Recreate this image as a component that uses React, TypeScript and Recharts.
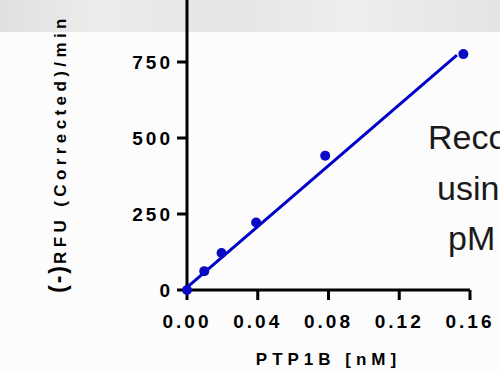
import { ComposedChart, Scatter, XAxis, YAxis } from "recharts";

// PTP1B dilution series and measured rates
const ptp1b = [0, 0.00977, 0.01953, 0.03906, 0.07813, 0.15625];
const rfuRate = [0, 62, 122, 222, 442, 776];

// linear fit endpoints
const fitX = [0, 0.1526];
const fitY = [9, 773];

const xTicks = [0, 0.04, 0.08, 0.12, 0.16];
const yTicks = [0, 250, 500, 750];

const sideLines = ["Reco", "usin", "pM"];

const points = ptp1b.map((x, i) => ({ x, y: rfuRate[i] }));
const fit = fitX.map((x, i) => ({ x, y: fitY[i] }));

const tickFont = {
  fontFamily: "'Liberation Sans', Arial, sans-serif",
  fontWeight: 700,
  fontSize: 19,
  letterSpacing: 3,
  fill: "#000",
};

const Dot = (props: any) => (
  <circle cx={props.cx} cy={props.cy} r={5} fill="#0a0ac4" />
);

const YLabel = () => (
  <text
    x={66}
    y={293}
    transform="rotate(-90 66 293)"
    fontFamily="'Liberation Sans', Arial, sans-serif"
    fontWeight={700}
    fill="#000"
  >
    <tspan fontSize={23} letterSpacing={2}>(-)</tspan>
    <tspan fontSize={17} letterSpacing={4.4}>RFU (Corrected)/min</tspan>
  </text>
);

export default function App() {
  return (
    <div
      style={{
        position: "absolute",
        left: 0,
        top: 0,
        width: 500,
        height: 371,
        overflow: "hidden",
        background: "#fcfcfc",
      }}
    >
      <div
        style={{
          position: "absolute",
          left: 0,
          top: 0,
          width: 500,
          height: 32,
          background:
            "linear-gradient(90deg, #e0e0e0 0%, #ececec 20%, #e5e5e5 45%, #eeeeee 70%, #e4e4e4 100%)",
        }}
      />
      <div style={{ position: "absolute", left: 0, top: 0 }}>
        <ComposedChart
          width={500}
          height={371}
          margin={{ top: 0, right: 30, bottom: 0, left: 0 }}
        >
          <XAxis
            type="number"
            dataKey="x"
            domain={[0, 0.16]}
            ticks={xTicks}
            tickFormatter={(v: number) => v.toFixed(2)}
            height={81}
            tickSize={10}
            tickMargin={15}
            axisLine={{ stroke: "#000", strokeWidth: 3 }}
            tickLine={{ stroke: "#000", strokeWidth: 3 }}
            tick={tickFont}
            label={{
              value: "PTP1B [nM]",
              position: "insideBottom",
              offset: 6,
              style: {
                fontFamily: "'Liberation Sans', Arial, sans-serif",
                fontWeight: 700,
                fontSize: 17,
                letterSpacing: 5,
                fill: "#000",
              },
            }}
          />
          <YAxis
            type="number"
            dataKey="y"
            domain={[0, 954]}
            ticks={yTicks}
            width={187}
            tickSize={10}
            tickMargin={4}
            axisLine={{ stroke: "#000", strokeWidth: 3 }}
            tickLine={{ stroke: "#000", strokeWidth: 3 }}
            tick={tickFont}
            label={<YLabel />}
          />
          <Scatter
            data={fit}
            line={{ stroke: "#0000c8", strokeWidth: 3 }}
            shape={() => <g />}
            isAnimationActive={false}
          />
          <Scatter data={points} shape={Dot} isAnimationActive={false} />
        </ComposedChart>
      </div>
      <svg
        width={500}
        height={371}
        style={{ position: "absolute", left: 0, top: 0, pointerEvents: "none" }}
      >
        {sideLines.map((s, i) => (
          <text
            key={s}
            x={[428, 437, 448][i]}
            y={149 + i * 50.5}
            fontFamily="'Liberation Sans', Arial, sans-serif"
            fontSize={34}
            fill="#1a1a1a"
          >
            {s}
          </text>
        ))}
      </svg>
    </div>
  );
}
